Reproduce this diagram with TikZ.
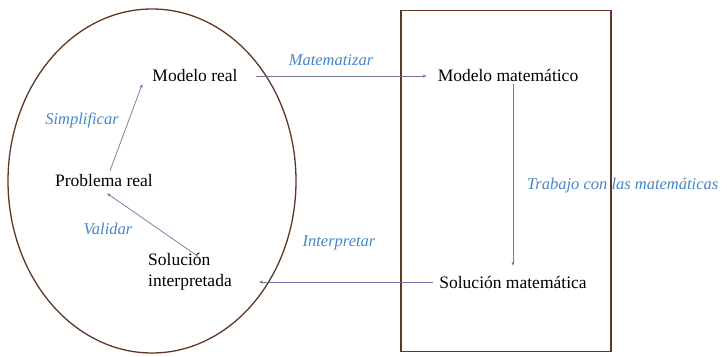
\documentclass[tikz,border=0pt]{standalone}
\usepackage{fontspec}
\setmainfont{Liberation Serif}
\usetikzlibrary{arrows.meta,shapes.geometric}
\definecolor{frameBrown}{RGB}{95,55,35}
\definecolor{arrowGray}{RGB}{115,115,160}
\definecolor{labelBlue}{RGB}{70,135,200}
\tikzset{
  txt/.style={font=\fontsize{17.5}{21}\selectfont, text=black, inner sep=2pt},
  lbl/.style={font=\fontsize{16.5}{19}\selectfont\itshape, text=labelBlue, inner sep=1pt},
  arr/.style={draw=arrowGray, line width=0.7pt, -{Stealth[length=4pt,width=3pt]}},
  frame/.style={draw=frameBrown, line width=1.3pt}
}
\begin{document}
\begin{tikzpicture}[x=1pt,y=-1pt]
\useasboundingbox (0,0) rectangle (727,356);
\fill[white] (0,0) rectangle (727,356);
% containers
\node[frame, ellipse, minimum width=288pt, minimum height=344pt, inner sep=0pt] (world) at (152,181) {};
\node[frame, rectangle, minimum width=210pt, minimum height=341pt, inner sep=0pt] (math) at (506,181) {};
% text nodes
\node[txt] (mr) at (195,76) {Modelo real};
\node[txt] (pr) at (104,181) {Problema real};
\node[txt, align=left, anchor=west] (si) at (146,272) {Solución\\interpretada};
\node[txt] (mm) at (508,76) {Modelo matemático};
\node[txt] (sm) at (513,282) {Solución matemática};
% labels
\node[lbl] (lsimp) at (82,120) {Simplificar};
\node[lbl] (lval) at (108,229) {Validar};
\node[lbl] (lmat) at (331,60) {Matematizar};
\node[lbl] (lint) at (339,243) {Interpretar};
\node[lbl, anchor=west] (ltrab) at (526,186) {Trabajo con las matemáticas};
% connectors
\draw[arr] ([xshift=6pt,yshift=2pt]pr.north) -- ([xshift=-8pt,yshift=-8pt]mr.west);
\draw[arr] ([xshift=16pt]mr.east) -- ([xshift=-9pt]mm.west);
\draw[arr] (sm.north |- mm.south) -- ([yshift=8pt]sm.north);
\draw[arr] ([xshift=-4pt]sm.west) -- ([xshift=25pt]si.east |- sm.west);
\draw[arr] ([xshift=8pt,yshift=-5pt]si.north) -- ([xshift=3pt,yshift=-4pt]pr.south);
\end{tikzpicture}
\end{document}
